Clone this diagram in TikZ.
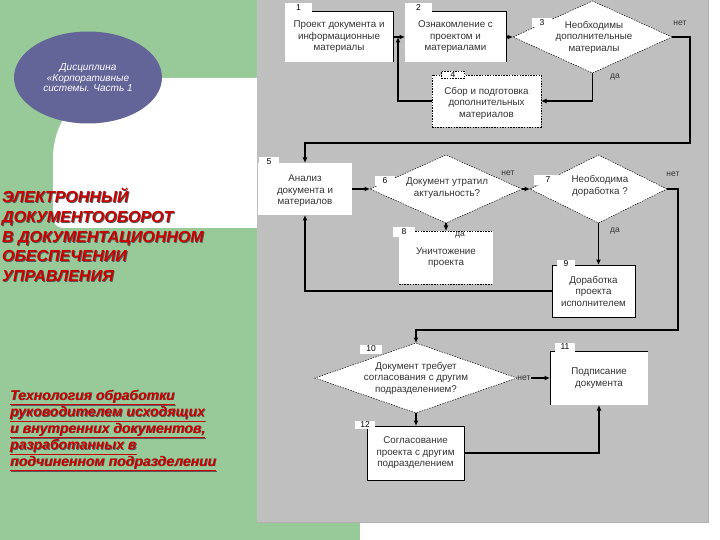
\documentclass[tikz,border=0pt]{standalone}
\usepackage{fontspec}
\setmainfont{Liberation Sans}
\usetikzlibrary{shapes.geometric,arrows.meta}
\definecolor{bggreen}{RGB}{152,201,152}
\definecolor{panelgray}{RGB}{191,191,191}
\definecolor{ellblue}{RGB}{99,100,152}
\definecolor{titlered}{RGB}{200,0,0}
\begin{document}
\begin{tikzpicture}[x=1pt,y=-1pt,
  flbox/.style={rectangle, fill=white, inner sep=0pt, outer sep=0pt, align=center, font=\fontsize{9.8}{11.5}\selectfont, text=black!80},
  dia/.style={diamond, fill=white, draw=black, line width=0.5pt, dash pattern=on 1.5pt off 1.2pt, inner sep=0pt, outer sep=0pt},
  dtext/.style={align=center, font=\fontsize{9.8}{11.5}\selectfont, text=black!80, inner sep=0pt},
  numtab/.style={rectangle, fill=white, inner sep=0pt, outer sep=0pt, font=\fontsize{8.5}{9}\selectfont},
  lbl/.style={font=\fontsize{8.5}{9}\selectfont, text=black!80, inner sep=0pt},
  conn/.style={draw=black, line width=1.1pt, -{Latex[length=5.5pt,width=5pt]}},
  bline/.style={draw=black, line width=0.7pt},
  dline/.style={draw=black, line width=0.5pt, dash pattern=on 1.5pt off 1.2pt},
  ttl/.style={font=\fontsize{16}{19}\selectfont\bfseries\itshape, inner sep=0pt, anchor=base west},
  subt/.style={font=\fontsize{14}{16}\selectfont\bfseries\itshape, inner sep=0pt, anchor=base west}
]
\useasboundingbox (0,0) rectangle (720,540);
% backgrounds
\fill[white] (0,0) rectangle (720,540);
\fill[bggreen] (0,0) rectangle (360,540);
\fill[white] (258,78) -- (133,78) .. controls (89,78) and (53,114) .. (53,158) -- (53,218) .. controls (53,223.5) and (57.5,228) .. (63,228) -- (258,228) -- cycle;
\node[ellipse, fill=ellblue, minimum width=148pt, minimum height=92pt, inner sep=0pt] (ell) at (88,77.5) {};
\node[align=center, text=white, inner sep=0pt, font=\fontsize{10}{10.5}\selectfont\itshape] (etxt) at (88,78) {Дисциплина\\«Корпоративные\\системы. Часть 1};
% titles
\foreach \t [count=\i] in {ЭЛЕКТРОННЫЙ, ДОКУМЕНТООБОРОТ, В ДОКУМЕНТАЦИОННОМ, ОБЕСПЕЧЕНИИ, УПРАВЛЕНИЯ} {
  \node[ttl, text=black!65] (tts\i) at (2.9, {203.9+19.6*(\i-1)}) {\t};
  \node[ttl, text=titlered] (tt\i) at (2, {203+19.6*(\i-1)}) {\t};
}
\foreach \t [count=\i] in {Технология обработки, руководителем исходящих, {и внутренних документов,}, разработанных в, подчиненном подразделении} {
  \node[subt, text=black!65] (sts\i) at (10.8, {400.8+16.5*(\i-1)}) {\underline{\t}};
  \node[subt, text=titlered] (st\i) at (10, {400+16.5*(\i-1)}) {\underline{\t}};
}
% panel
\fill[panelgray] (257,0) rectangle (708,522);
\draw[black!30, line width=1pt] (708,0) -- (708,522) -- (257,522);
% boxes
\node[flbox, minimum width=108pt, minimum height=51pt] (b1) at (339,37) {Проект документа и\\информационные\\материалы};
\node[flbox, minimum width=101pt, minimum height=51pt] (b2) at (455.5,37) {Ознакомление с\\проектом и\\материалами};
\node[dia, minimum width=159pt, minimum height=72pt] (d3) at (592.5,37) {};
\node[dtext] (d3t) at (594,37) {Необходимы\\дополнительные\\материалы};
\node[flbox, draw=black, line width=0.5pt, dash pattern=on 1.5pt off 1.2pt, minimum width=109pt, minimum height=52pt] (b4) at (486.5,101) {};
\node[dtext] (b4t) at (486.5,103) {Сбор и подготовка\\дополнительных\\материалов};
\node[flbox, minimum width=94pt, minimum height=52pt] (b5) at (305,189) {};
\node[dtext] (b5t) at (305,191) {Анализ\\документа и\\материалов};
\node[dia, minimum width=152pt, minimum height=68pt] (d6) at (446,189) {};
\node[dtext] (d6t) at (447,188) {Документ утратил\\актуальность?};
\node[dia, minimum width=137pt, minimum height=68pt] (d7) at (598.5,189) {};
\node[dtext] (d7t) at (600,186) {Необходима\\доработка ?};
\node[flbox, minimum width=94pt, minimum height=53pt] (b8) at (446,257.5) {Уничтожение\\проекта};
\node[flbox, minimum width=83pt, minimum height=52pt] (b9) at (593.5,291) {Доработка\\проекта\\исполнителем};
\node[dia, minimum width=202pt, minimum height=70pt] (d10) at (416,378) {};
\node[dtext] (d10t) at (416,378) {Документ требует\\согласования с другим\\подразделением?};
\node[flbox, minimum width=98pt, minimum height=54pt] (b11) at (599,378) {Подписание\\документа};
\node[flbox, minimum width=97pt, minimum height=54pt] (b12) at (415.5,453) {Согласование\\проекта с другим\\подразделением};
% partial borders
\draw[bline] (b1.north west) -- (b1.north east) -- (b1.south east);
\draw[bline] (b2.north west) -- (b2.north east) -- (b2.south east);
\draw[dline] (b8.north west) -- (b8.north east);
\draw[dline] (b8.south west) -- (b8.south east);
\draw[bline] (b9.north west) rectangle (b9.south east);
\draw[bline] (b11.south west) -- (b11.north west) -- (b11.north east);
\draw[bline] (b12.north west) rectangle (b12.south east);
% number tabs
\node[numtab, minimum width=27pt, minimum height=9pt] (n1) at (298.5,7.5) {1};
\node[numtab, minimum width=27pt, minimum height=9pt] (n2) at (418.5,7.5) {2};
\node[numtab, minimum width=20pt, minimum height=9pt] (n3) at (542,22.5) {3};
\node[numtab, draw=black, line width=0.5pt, dash pattern=on 1.5pt off 1.2pt, minimum width=23pt, minimum height=7pt] (n4) at (453,75) {4};
\node[numtab, minimum width=20pt, minimum height=9pt] (n5) at (269,162) {5};
\node[numtab, minimum width=20pt, minimum height=10pt] (n6) at (385,181) {6};
\node[numtab, minimum width=28pt, minimum height=10pt] (n7) at (548,180) {7};
\node[numtab, minimum width=22pt, minimum height=9pt] (n8) at (404,232) {8};
\node[numtab, minimum width=18pt, minimum height=8pt] (n9) at (566,264) {9};
\node[numtab, minimum width=22pt, minimum height=9pt] (n10) at (371,349) {10};
\node[numtab, minimum width=20pt, minimum height=9pt] (n11) at (565,347) {11};
\node[numtab, minimum width=20pt, minimum height=8pt] (n12) at (365,425) {12};
% connectors
\coordinate (j1) at (398,37);
\draw[conn] (b1.east) -- (b2.west);
\draw[conn] (b4.west) -| (j1);
\draw[conn] (b2.east) -- (d3.west);
\draw[conn] (d3.south) |- (b4.east);
\draw[conn] (d3.east) -| (690,143) -| (b5.north);
\draw[conn] (b5.east) -- (d6.west);
\draw[conn] (d6.east) -- (d7.west);
\draw[conn] (d6.south) -- (b8.north);
\draw[conn] (d7.south) -- (d7.south |- b9.north);
\draw[conn] (b9.west) -| (b5.south);
\draw[conn] (d7.east) -| (678,330) -| (d10.north);
\draw[conn] (d10.east) -- (b11.west);
\draw[conn] (d10.south) -- (d10.south |- b12.north);
\draw[conn] (b12.east) -| (b11.south);
% labels
\node[lbl] (l3n) at (680,23) {нет};
\node[lbl] (l3d) at (615,77) {да};
\node[lbl] (l6n) at (508,173) {нет};
\node[lbl] (l6d) at (460,235) {да};
\node[lbl] (l7n) at (673,174) {нет};
\node[lbl] (l7d) at (615,231) {да};
\node[lbl, fill=panelgray] (l10n) at (524,378) {нет};
\end{tikzpicture}
\end{document}
